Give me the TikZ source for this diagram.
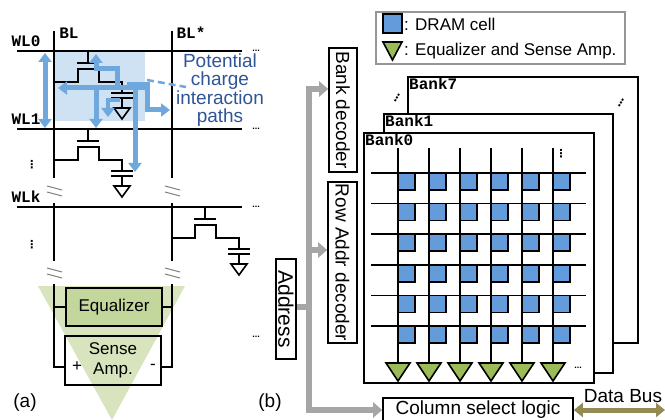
\documentclass[tikz,border=0pt]{standalone}
\usepackage{fontspec}
\setmainfont{Liberation Sans}
\setmonofont{Liberation Mono}
\newfontfamily\symfont{DejaVu Sans}
\usetikzlibrary{arrows.meta, positioning, calc}
\definecolor{cellblue}{RGB}{99,155,219}
\definecolor{pathblue}{RGB}{111,168,220}
\definecolor{textblue}{RGB}{47,85,151}
\definecolor{hiblue}{RGB}{207,226,243}
\definecolor{sagreen}{RGB}{155,187,89}
\definecolor{sapale}{RGB}{215,228,189}
\definecolor{eqgreen}{RGB}{195,214,155}
\definecolor{busgray}{RGB}{166,166,166}
\definecolor{busolive}{RGB}{148,138,84}
\definecolor{legendgray}{RGB}{150,150,150}

\tikzset{
  wire/.style={line width=1.6pt},
  brk/.style={line width=1pt, draw=gray},
  dramcell/.pic={
    \draw[wire] (0,0) -- (0,12);
    \draw[wire] (-11,12) -- (11,12);
    \draw[wire] (-34,31) -- (-10,31) -- (-10,18) -- (11,18) -- (11,31) -- (34,31) -- (34,42);
    \draw[wire] (23,42) -- (45,42) (23,47) -- (45,47);
    \draw[wire] (34,47) -- (34,57);
    \draw[wire] (26,57) -- (42,57) -- (34,68) -- cycle;
  },
  chargepath/.style={pathblue, line width=5pt, -{Triangle[width=13pt,length=9pt]}},
  addrbus/.style={busgray, line width=6pt},
  addrarrow/.style={addrbus, -{Triangle[width=15pt,length=9pt]}},
  sfbox/.style={draw, line width=1.6pt, inner sep=0pt, font=\fontsize{19}{19}\selectfont},
  decoder/.style={sfbox, rotate=-90},
  banklabel/.style={anchor=north west, inner sep=2pt, font=\ttfamily\bfseries\fontsize{16}{16}\selectfont},
  banks/.style={draw, fill=white, line width=1.6pt, anchor=north west, inner sep=0pt},
  mono/.style={font=\ttfamily\bfseries\fontsize{16}{16}\selectfont, inner sep=1pt},
  smalldots/.style={font=\bfseries\fontsize{9}{9}\selectfont, inner sep=0pt},
  vdotsmark/.style={font=\symfont\bfseries\fontsize{11}{11}\selectfont, inner sep=0pt},
  tag/.style={font=\fontsize{19}{19}\selectfont, inner sep=0pt}
}

\begin{document}
\begin{tikzpicture}[x=1pt,y=-1pt]
\useasboundingbox (0,0) rectangle (665,420);

% (a) cells and bitlines
\fill[hiblue] (55,51) rectangle (145,121);
\fill[sapale] (38,286) -- (185,286) -- (112,420) -- cycle;

\foreach \wy/\lab in {51/WL0,129/WL1,207/WLk}{
  \draw[wire] (17,\wy) -- (242,\wy);
  \node[smalldots] (dots-\lab) at (256,\wy) {...};
  \node[mono] (\lab) at (26,\wy-10) {\lab};
}
\node[smalldots] (dots-sa) at (256,337) {...};
\node[mono] (bl) at (69,33) {BL};
\node[mono] (blstar) at (191,33) {BL*};
\node[vdotsmark] (vdA) at (32,165) {⋮};
\node[vdotsmark] (vdB) at (32,245) {⋮};

\foreach \bx in {54,172}{
  \draw[wire] (\bx,31) -- (\bx,178);
  \draw[wire] (\bx,203) -- (\bx,261);
  \foreach \by in {186,268}{
    \draw[brk] (\bx-7,\by) -- ++(15,4);
    \draw[brk] (\bx-7,\by+6) -- ++(15,4);
  }
}

\pic at (88,51) {dramcell};
\pic at (88,129) {dramcell};
\pic at (205,207) {dramcell};

\node[sfbox, fill=eqgreen, minimum width=96pt, minimum height=38pt, font=\fontsize{17}{17}\selectfont] (eq) at (114,307) {Equalizer};
\node[sfbox, minimum width=96pt, minimum height=49pt, align=center, font=\fontsize{17}{20}\selectfont] (sa) at (113,360.5) {Sense\\Amp.};
\node[tag, font=\fontsize{17}{17}\selectfont] (plus) at (77,367) {+};
\node[tag, font=\fontsize{17}{17}\selectfont] (minus) at (153,367) {-};
\draw[wire] (54,307) -- (eq.west);
\draw[wire] (172,307) -- (eq.east);
\draw[wire] (54,284) -- (54,367) -- (sa.west |- 0,367);
\draw[wire] (172,284) -- (172,367) -- (sa.east |- 0,367);

% charge paths
\draw[chargepath, {Triangle[width=13pt,length=9pt]}-{Triangle[width=13pt,length=9pt]}] (45,53) -- (45,128);
\draw[chargepath] (117,88) -- (117,69) -- (96,69) -- (96,54);
\draw[chargepath] (150,88) -- (58,88);
\draw[chargepath] (96,88) -- (96,128);
\draw[chargepath] (127,85) -- (147,85) -- (147,110) -- (170,110);
\draw[chargepath] (135,83) -- (135,172);
\draw[chargepath, line width=4pt] (120,100) -- (108,100) -- (108,117);
\draw[pathblue, line width=2.5pt, dash pattern=on 7pt off 4pt] (147,80) -- (186,87);
\node[textblue, align=center, inner sep=0pt, font=\fontsize{19}{18.3}\selectfont] (potential) at (220,90) {Potential\\charge\\interaction\\paths};

\node[tag] (taga) at (25,403) {(a)};
\node[tag] (tagb) at (270,403) {(b)};

% (b) legend
\node[draw=legendgray, line width=1.5pt, minimum width=249pt, minimum height=52pt, inner sep=0pt] (legend) at (500.5,38) {};
\draw[wire, fill=cellblue] (383,14) rectangle (402,33);
\draw[wire, fill=sagreen] (383,42) -- (402,42) -- (392.5,60) -- cycle;
\node[anchor=west, inner sep=1pt, font=\fontsize{17}{17}\selectfont] (leg-cell) at (403,24) {: DRAM cell};
\node[anchor=west, inner sep=1pt, font=\fontsize{17}{17}\selectfont] (leg-sa) at (403,51) {: Equalizer and Sense Amp.};

% banks
\node[banks, minimum width=230pt, minimum height=266pt] (bank7) at (407,76) {};
\node[banklabel] (lab7) at (bank7.north west) {Bank7};
\node[banks, minimum width=229pt, minimum height=259pt] (bank1) at (383,113) {};
\node[banklabel] (lab1) at (bank1.north west) {Bank1};
\node[banks, minimum width=230pt, minimum height=250pt] (bank0) at (363,132) {};
\node[banklabel] (lab0) at (bank0.north west) {Bank0};
\node[vdotsmark, rotate=-30] (vdC) at (397,98) {⋮};
\node[vdotsmark, rotate=-30] (vdD) at (621,103) {⋮};
\node[vdotsmark] (vdE) at (561,154) {⋮};
\node[smalldots] (dots-arr) at (578,368) {...};

\foreach \i in {0,...,5}{
  \pgfmathsetmacro\bx{398+31*\i}
  \draw[wire] (\bx,148) -- (\bx,363);
  \draw[wire, fill=sagreen] (\bx-12,363) -- (\bx+12,363) -- (\bx,381) -- cycle;
}
\foreach \j in {0,...,5}{
  \pgfmathsetmacro\wy{173+30.6*\j}
  \draw[wire] (371,\wy) -- (586,\wy);
  \foreach \i in {0,...,5}{
    \pgfmathsetmacro\bx{398+31*\i}
    \draw[wire, fill=cellblue] (\bx,\wy) rectangle ++(17,17);
  }
}

% decoders and buses (rotated boxes: south is the left side)
\node[decoder, minimum width=124pt, minimum height=28pt] (bankdec) at (343,110) {Bank decoder};
\node[decoder, minimum width=161pt, minimum height=29pt] (rowdec) at (342.5,262.5) {Row Addr decoder};
\node[decoder, minimum width=100pt, minimum height=20pt, font=\fontsize{21}{21}\selectfont] (addr) at (286,309) {Address};
\node[sfbox, minimum width=190pt, minimum height=24pt] (colsel) at (478,410) {Column select logic};

\coordinate (trunk) at (309,307);
\draw[addrbus] (addr.north |- trunk) -- (trunk);
\draw[addrarrow] (trunk) |- (bankdec.south |- 0,89);
\draw[addrarrow] (trunk) |- (rowdec.south |- 0,250);
\draw[addrarrow] (trunk) |- (colsel.west);

\coordinate (busend) at (665,410);
\draw[busolive, line width=5pt, {Triangle[width=14pt,length=9pt]}-{Triangle[width=14pt,length=9pt]}] (colsel.east) -- (busend);
\node[tag] (databus) at (623,396) {Data Bus};
\end{tikzpicture}
\end{document}
